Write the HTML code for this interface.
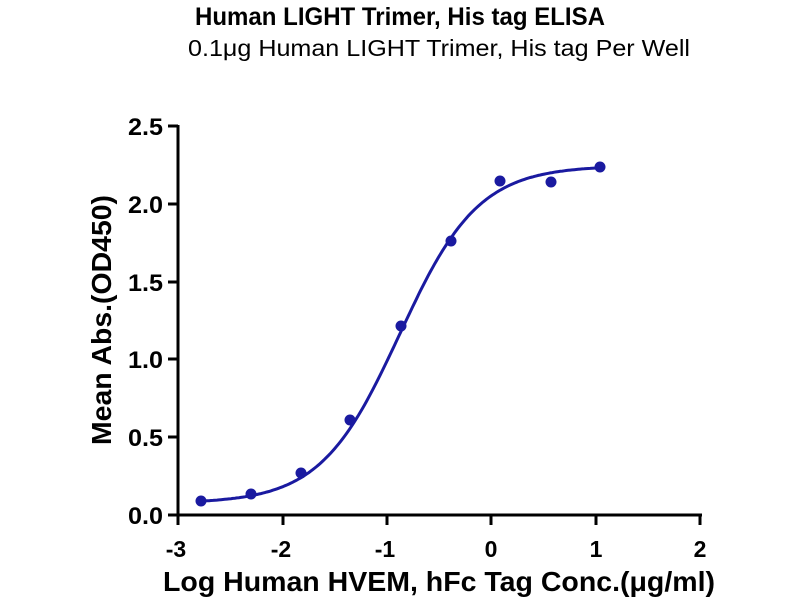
<!DOCTYPE html>
<html><head><meta charset="utf-8"><style>body{margin:0;background:#fff}svg{display:block}</style></head>
<body>
<svg id="s" width="800" height="600" xmlns="http://www.w3.org/2000/svg" font-family="Liberation Sans, sans-serif">
<rect width="800" height="600" fill="#fff"/>
<text x="400" y="25" text-anchor="middle" font-weight="bold" font-size="25" textLength="410" lengthAdjust="spacingAndGlyphs">Human LIGHT Trimer, His tag ELISA</text>
<text x="439" y="56" text-anchor="middle" font-size="23" textLength="502" lengthAdjust="spacingAndGlyphs">0.1μg Human LIGHT Trimer, His tag Per Well</text>
<g stroke="#000" stroke-width="3" fill="none">
<line x1="178" y1="125" x2="178" y2="516"/>
<line x1="177" y1="515" x2="702" y2="515"/>
<line x1="168" y1="126" x2="178" y2="126"/>
<line x1="168" y1="204" x2="178" y2="204"/>
<line x1="168" y1="282" x2="178" y2="282"/>
<line x1="168" y1="359" x2="178" y2="359"/>
<line x1="168" y1="437" x2="178" y2="437"/>
<line x1="168" y1="515" x2="178" y2="515"/>
<line x1="178" y1="515" x2="178" y2="525"/>
<line x1="283" y1="515" x2="283" y2="525"/>
<line x1="387" y1="515" x2="387" y2="525"/>
<line x1="491" y1="515" x2="491" y2="525"/>
<line x1="596" y1="515" x2="596" y2="525"/>
<line x1="700" y1="515" x2="700" y2="525"/>
</g>
<g font-weight="bold" font-size="24" text-anchor="end">
<text x="163" y="135" textLength="35" lengthAdjust="spacingAndGlyphs">2.5</text>
<text x="163" y="213" textLength="35" lengthAdjust="spacingAndGlyphs">2.0</text>
<text x="163" y="291" textLength="35" lengthAdjust="spacingAndGlyphs">1.5</text>
<text x="163" y="368" textLength="35" lengthAdjust="spacingAndGlyphs">1.0</text>
<text x="163" y="446" textLength="35" lengthAdjust="spacingAndGlyphs">0.5</text>
<text x="163" y="524" textLength="35" lengthAdjust="spacingAndGlyphs">0.0</text>
</g>
<g font-weight="bold" font-size="23" text-anchor="middle">
<text x="176" y="557">-3</text><text x="281" y="557">-2</text><text x="385" y="557">-1</text>
<text x="491" y="557">0</text><text x="596" y="557">1</text><text x="700" y="557">2</text>
</g>
<text x="439" y="591" text-anchor="middle" font-weight="bold" font-size="28" textLength="552" lengthAdjust="spacingAndGlyphs">Log Human HVEM, hFc Tag Conc.(μg/ml)</text>
<text transform="translate(111,320) rotate(-90)" text-anchor="middle" font-weight="bold" font-size="28" textLength="250" lengthAdjust="spacingAndGlyphs">Mean Abs.(OD450)</text>
<path id="c" fill="none" stroke="#1a1aa0" stroke-width="3"/>
<g id="p" fill="#1a1aa0"></g>
</svg>
<script>
var X=function(v){return 178+(v+3)*104.5},Y=function(v){return 515-155.6*v};
var d="";for(var i=0;i<=200;i++){var x=-2.78+i*(1.04+2.78)/200;var y=0.075+2.17/(1+Math.pow(10,(-0.88-x)*1.15));d+=(i?"L":"M")+X(x).toFixed(1)+","+Y(y).toFixed(1);}
document.getElementById("c").setAttribute("d",d);
var pts=[[201,501],[251,494],[301,473],[350,420],[401,326],[451,241],[500,181],[551,182],[600,167]],g=document.getElementById("p"),h="";
pts.forEach(function(p){h+='<circle cx="'+p[0]+'" cy="'+p[1]+'" r="5.5"/>';});g.innerHTML=h;
</script>
</body></html>
